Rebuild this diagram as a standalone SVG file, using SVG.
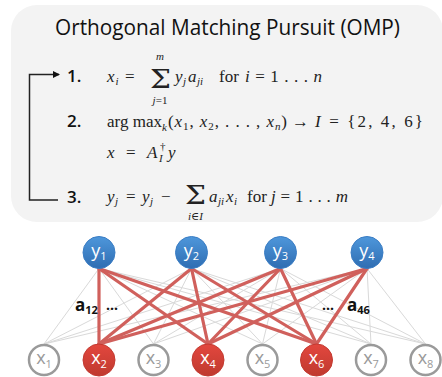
<svg xmlns="http://www.w3.org/2000/svg" width="442" height="377" viewBox="0 0 442 377">
<style>
.sans{font-family:"Open Sans","Liberation Sans",sans-serif}
.title{font-size:21px;fill:#111}
.num{font-family:"Open Sans","Liberation Sans",sans-serif;font-weight:600;font-size:17px;fill:#111}
.m{font-family:"Liberation Serif","DejaVu Serif",serif;font-size:17px;fill:#222}
.i{font-style:italic}
.s{font-size:11px}
.gray line{stroke:#d9d9d9;stroke-width:1}
.red line{stroke:#d0605c;stroke-width:3.2;stroke-linecap:round}
.xo{fill:#fff;stroke:#9a9a9a;stroke-width:2.5}
.xr{fill:url(#gr);stroke:#c33a31;stroke-width:1}
.yb{fill:url(#gb);stroke:#3a7dc4;stroke-width:1}
.nl{font-family:"Open Sans","Liberation Sans",sans-serif;font-size:18px;text-anchor:middle}
.lbl{font-family:"Open Sans","Liberation Sans",sans-serif;font-weight:700;fill:#111}
</style>
<defs>
<linearGradient id="gb" x1="0" y1="0" x2="0" y2="1"><stop offset="0" stop-color="#4e97db"/><stop offset="1" stop-color="#2f6db2"/></linearGradient>
<linearGradient id="gr" x1="0" y1="0" x2="0" y2="1"><stop offset="0" stop-color="#e3473e"/><stop offset="1" stop-color="#bf3a2f"/></linearGradient>
<marker id="ah" markerWidth="8" markerHeight="8" refX="6" refY="4" orient="auto" markerUnits="userSpaceOnUse"><path d="M0,0.5 L7,4 L0,7.5 z" fill="#111"/></marker>
</defs>
<rect x="11" y="5" width="432" height="217" rx="26" fill="#f3f3f3"/>
<g id="title"><text class="sans title" x="227.5" y="35" text-anchor="middle" textLength="345" lengthAdjust="spacingAndGlyphs">Orthogonal Matching Pursuit (OMP)</text></g>
<g id="loop"><path d="M58,200 H29.5 V74.5 H59" fill="none" stroke="#222" stroke-width="1.5" marker-end="url(#ah)"/></g>
<g id="step1">
<text class="num" x="67" y="82">1.</text>
<text class="m i" x="107" y="82">x</text><text class="m i s" x="115.5" y="85">i</text>
<text class="m" x="125" y="82">=</text>
<text x="150" y="88" font-family="DejaVu Serif, serif" font-size="26" fill="#222" textLength="21" lengthAdjust="spacingAndGlyphs">Σ</text>
<text class="m i s" x="160" y="60" text-anchor="middle">m</text>
<text class="m s" x="160" y="104" text-anchor="middle"><tspan class="i">j</tspan>=1</text>
<text class="m i" x="175" y="82">y</text><text class="m i s" x="183" y="85">j</text>
<text class="m i" x="188" y="82">a</text><text class="m i s" x="197" y="85">ji</text>
<text class="m" x="219" y="82">for</text>
<text class="m" x="245" y="82" textLength="77"><tspan class="i">i</tspan> = 1 . . . <tspan class="i">n</tspan></text>
</g>
<g id="step2">
<text class="num" x="67" y="127">2.</text>
<text class="m" x="107" y="127" textLength="55">arg max</text>
<text class="m i s" x="162" y="131">k</text>
<text class="m" x="168" y="127" textLength="119">(<tspan class="i">x</tspan><tspan class="s" dy="3">1</tspan><tspan dy="-3">, </tspan><tspan class="i">x</tspan><tspan class="s" dy="3">2</tspan><tspan dy="-3">, . . . , </tspan><tspan class="i">x</tspan><tspan class="s i" dy="3">n</tspan><tspan dy="-3">)</tspan></text>
<text class="m" x="292" y="127" font-family="DejaVu Serif" textLength="18">→</text>
<text class="m" x="315" y="127" textLength="108"><tspan class="i">I</tspan> = {2, 4, 6}</text>
<text class="m i" x="107" y="158">x</text>
<text class="m" x="126" y="158">=</text>
<text class="m i" x="147" y="158">A</text>
<text class="m s" x="160" y="150">†</text>
<text class="m i s" x="159" y="162">I</text>
<text class="m i" x="168" y="158">y</text>
</g>
<g id="step3">
<text class="num" x="67" y="203">3.</text>
<text class="m i" x="107" y="202">y</text><text class="m i s" x="115" y="205">j</text>
<text class="m" x="126" y="202">=</text>
<text class="m i" x="142" y="202">y</text><text class="m i s" x="150" y="205">j</text>
<text class="m" x="161" y="202">−</text>
<text x="185" y="204" font-family="DejaVu Serif, serif" font-size="26" fill="#222" textLength="21" lengthAdjust="spacingAndGlyphs">Σ</text>
<text class="m s" x="195.5" y="219.5" text-anchor="middle"><tspan class="i">i</tspan>∈<tspan class="i">I</tspan></text>
<text class="m i" x="209" y="202">a</text><text class="m i s" x="218" y="205">ji</text>
<text class="m i" x="226" y="202">x</text><text class="m i s" x="234" y="205">i</text>
<text class="m" x="247" y="202">for</text>
<text class="m" x="271" y="202" textLength="77"><tspan class="i">j</tspan> = 1 . . . <tspan class="i">m</tspan></text>
</g>
<g id="connectors">
<g class="gray">
<line x1="99" y1="268.5" x2="44" y2="344"/><line x1="99" y1="268.5" x2="153.5" y2="344"/><line x1="99" y1="268.5" x2="262.5" y2="344"/><line x1="99" y1="268.5" x2="371" y2="344"/><line x1="99" y1="268.5" x2="425.5" y2="344"/>
<line x1="191.5" y1="268.5" x2="44" y2="344"/><line x1="191.5" y1="268.5" x2="153.5" y2="344"/><line x1="191.5" y1="268.5" x2="262.5" y2="344"/><line x1="191.5" y1="268.5" x2="371" y2="344"/><line x1="191.5" y1="268.5" x2="425.5" y2="344"/>
<line x1="280.5" y1="268.5" x2="44" y2="344"/><line x1="280.5" y1="268.5" x2="153.5" y2="344"/><line x1="280.5" y1="268.5" x2="262.5" y2="344"/><line x1="280.5" y1="268.5" x2="371" y2="344"/><line x1="280.5" y1="268.5" x2="425.5" y2="344"/>
<line x1="367" y1="268.5" x2="44" y2="344"/><line x1="367" y1="268.5" x2="153.5" y2="344"/><line x1="367" y1="268.5" x2="262.5" y2="344"/><line x1="367" y1="268.5" x2="371" y2="344"/><line x1="367" y1="268.5" x2="425.5" y2="344"/>
</g>
<g class="red">
<line x1="99" y1="268.5" x2="99" y2="344"/><line x1="99" y1="268.5" x2="208" y2="344"/><line x1="99" y1="268.5" x2="316.5" y2="344"/>
<line x1="191.5" y1="268.5" x2="99" y2="344"/><line x1="191.5" y1="268.5" x2="208" y2="344"/><line x1="191.5" y1="268.5" x2="316.5" y2="344"/>
<line x1="280.5" y1="268.5" x2="99" y2="344"/><line x1="280.5" y1="268.5" x2="208" y2="344"/><line x1="280.5" y1="268.5" x2="316.5" y2="344"/>
<line x1="367" y1="268.5" x2="99" y2="344"/><line x1="367" y1="268.5" x2="208" y2="344"/><line x1="367" y1="268.5" x2="316.5" y2="344"/>
</g>
</g>
<g id="labels">
<text class="lbl" x="75" y="311" font-size="17">a<tspan font-size="11" dy="3">12</tspan></text>
<text class="lbl" x="106" y="310" font-size="14">...</text>
<text class="lbl" x="322" y="310" font-size="14">...</text>
<text class="lbl" x="347" y="311" font-size="17">a<tspan font-size="11" dy="3">46</tspan></text>
</g>
<g id="y1"><circle class="yb" cx="99" cy="252.5" r="16"/><text class="nl" x="99" y="257" fill="#fff">y<tspan font-size="11" dy="3">1</tspan></text></g>
<g id="y2"><circle class="yb" cx="191.5" cy="252.5" r="16"/><text class="nl" x="191.5" y="257" fill="#fff">y<tspan font-size="11" dy="3">2</tspan></text></g>
<g id="y3"><circle class="yb" cx="280.5" cy="252.5" r="16"/><text class="nl" x="280.5" y="257" fill="#fff">y<tspan font-size="11" dy="3">3</tspan></text></g>
<g id="y4"><circle class="yb" cx="367" cy="252.5" r="16"/><text class="nl" x="367" y="257" fill="#fff">y<tspan font-size="11" dy="3">4</tspan></text></g>
<g id="x1"><circle class="xo" cx="44" cy="360" r="15"/><text class="nl" x="44" y="364" fill="#9a9a9a">x<tspan font-size="11" dy="4">1</tspan></text></g>
<g id="x2"><circle class="xr" cx="99" cy="360" r="16"/><text class="nl" x="99" y="364" fill="#fff">x<tspan font-size="11" dy="4">2</tspan></text></g>
<g id="x3"><circle class="xo" cx="153.5" cy="360" r="15"/><text class="nl" x="153.5" y="364" fill="#9a9a9a">x<tspan font-size="11" dy="4">3</tspan></text></g>
<g id="x4"><circle class="xr" cx="208" cy="360" r="16"/><text class="nl" x="208" y="364" fill="#fff">x<tspan font-size="11" dy="4">4</tspan></text></g>
<g id="x5"><circle class="xo" cx="262.5" cy="360" r="15"/><text class="nl" x="262.5" y="364" fill="#9a9a9a">x<tspan font-size="11" dy="4">5</tspan></text></g>
<g id="x6"><circle class="xr" cx="316.5" cy="360" r="16"/><text class="nl" x="316.5" y="364" fill="#fff">x<tspan font-size="11" dy="4">6</tspan></text></g>
<g id="x7"><circle class="xo" cx="371" cy="360" r="15"/><text class="nl" x="371" y="364" fill="#9a9a9a">x<tspan font-size="11" dy="4">7</tspan></text></g>
<g id="x8"><circle class="xo" cx="425.5" cy="360" r="15"/><text class="nl" x="425.5" y="364" fill="#9a9a9a">x<tspan font-size="11" dy="4">8</tspan></text></g>
</svg>
